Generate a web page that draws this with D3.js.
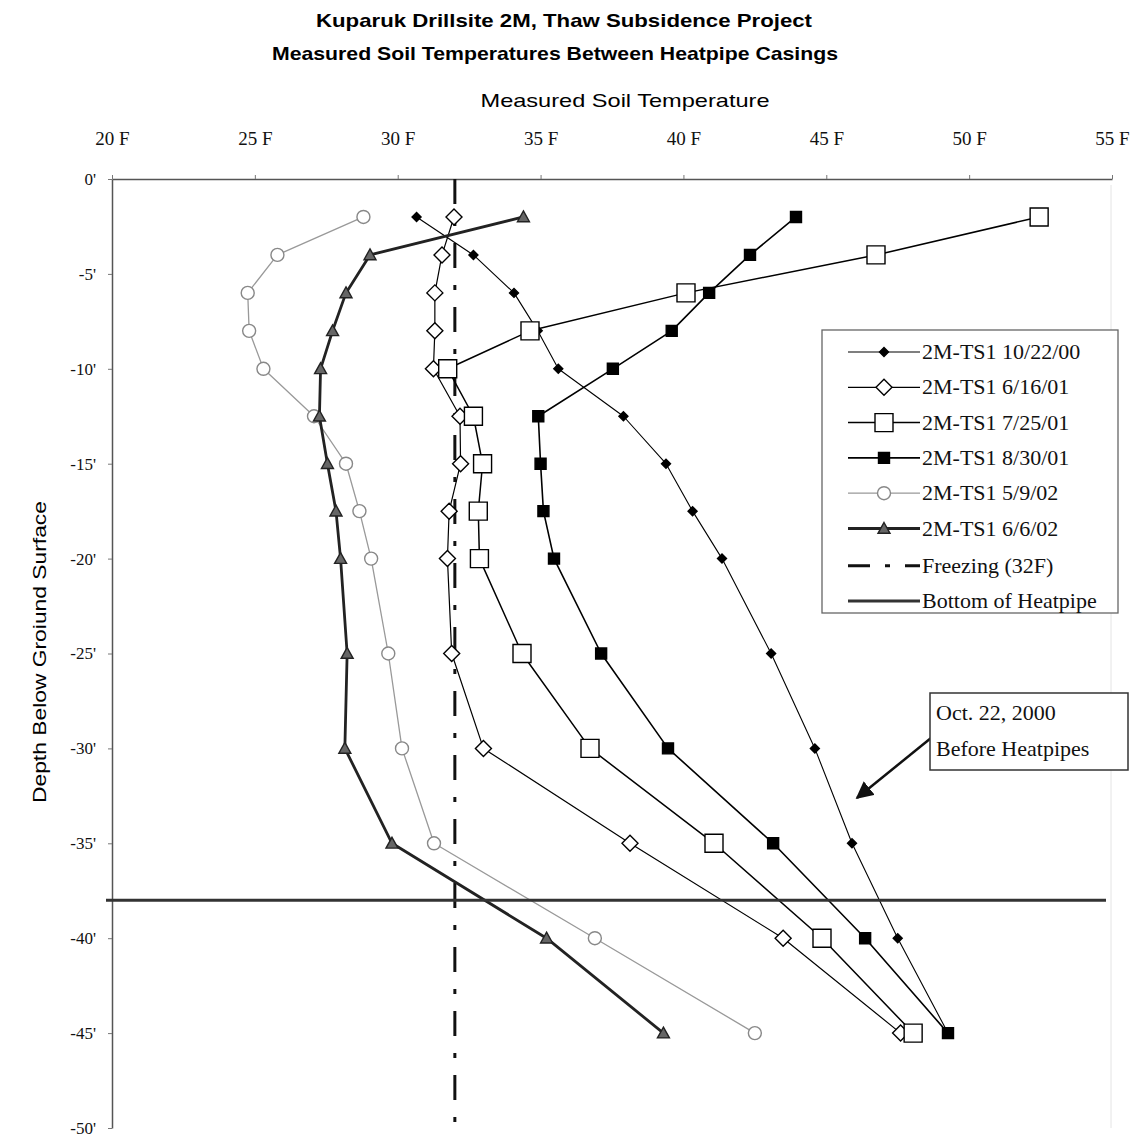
<!DOCTYPE html>
<html><head><meta charset="utf-8">
<script src="https://cdn.jsdelivr.net/npm/d3@7"></script>
<style>body{margin:0;background:#fff}svg{display:block}</style>
</head><body>
<script>
// ---- data ----
const depths = [-2,-4,-6,-8,-10,-12.5,-15,-17.5,-20,-25,-30,-35,-40,-45];
const t_102200 = [30.66,32.65,34.07,34.9,35.62,37.9,39.39,40.32,41.35,43.07,44.6,45.9,47.5,49.26];
const t_061601 = [31.97,31.55,31.3,31.3,31.25,32.18,32.2,31.8,31.74,31.89,33.0,38.13,43.49,47.6];
const t_072501 = [52.45,46.74,40.09,34.63,31.75,32.65,32.97,32.82,32.86,34.35,36.73,41.07,44.85,48.04];
const t_083001 = [43.94,42.33,40.9,39.59,37.53,34.92,35.0,35.1,35.47,37.12,39.46,43.14,46.36,49.26];
const t_050902 = [28.8,25.79,24.75,24.8,25.3,27.07,28.19,28.66,29.07,29.67,30.15,31.27,36.9,42.5];
const t_060602 = [34.4,29.03,28.19,27.72,27.3,27.26,27.54,27.84,28.0,28.23,28.15,29.8,35.21,39.3];
const seriesNames = ["2M-TS1 10/22/00","2M-TS1 6/16/01","2M-TS1 7/25/01","2M-TS1 8/30/01","2M-TS1 5/9/02","2M-TS1 6/6/02"];
const freezingTemp = 32;
const heatpipeDepth = -38;
const xTicks = [20,25,30,35,40,45,50,55];
const yTicks = [0,-5,-10,-15,-20,-25,-30,-35,-40,-45,-50];
const titleLines = ["Kuparuk Drillsite 2M, Thaw Subsidence Project","Measured Soil Temperatures Between Heatpipe Casings"];
const xTitle = "Measured Soil Temperature";
const yTitle = "Depth Below Groiund Surface";
const noteLines = ["Oct. 22, 2000","Before Heatpipes"];
const legendExtra = ["Freezing (32F)","Bottom of Heatpipe"];

// ---- styles ----
const styles = [
  {line:"#000", lw:1.1, shape:"diamond", size:9, fill:"#000", stroke:"#000"},
  {line:"#000", lw:1.2, shape:"diamond", size:16, fill:"#fff", stroke:"#000"},
  {line:"#000", lw:1.5, shape:"square", size:18, fill:"#fff", stroke:"#000"},
  {line:"#000", lw:1.6, shape:"square", size:11, fill:"#000", stroke:"#000"},
  {line:"#999", lw:1.3, shape:"circle", size:13, fill:"#fff", stroke:"#888"},
  {line:"#222", lw:2.8, shape:"triangle", size:12, fill:"#666", stroke:"#222"}
];
const allT = [t_102200,t_061601,t_072501,t_083001,t_050902,t_060602];

const W=1136,H=1141;
const svg = d3.select("body").append("svg").attr("width",W).attr("height",H);
const x = d3.scaleLinear().domain([20,55]).range([112,1112]);
const y = d3.scaleLinear().domain([0,-50]).range([179,1128]);

function circ(h){return `M${h},0A${h},${h} 0 1,1 ${-h},0A${h},${h} 0 1,1 ${h},0Z`;}
function mk(st){
  const h=st.size/2;
  if(st.shape==="diamond") return `M0,${-h}L${h},0L0,${h}L${-h},0Z`;
  if(st.shape==="square") return `M${-h},${-h}H${h}V${h}H${-h}Z`;
  if(st.shape==="triangle") return `M0,${-h}L${h},${h*0.8}L${-h},${h*0.8}Z`;
  return circ(h);
}

// titles
const serif = "'Liberation Serif','Times New Roman',serif";
const narrow = "'Liberation Sans Narrow','Arial Narrow','Liberation Sans',sans-serif";
svg.append("text").attr("x",564).attr("y",27).attr("text-anchor","middle")
  .attr("font-family",narrow).attr("font-weight","bold").attr("font-size",19)
  .attr("textLength",496).attr("lengthAdjust","spacingAndGlyphs").text(titleLines[0]);
svg.append("text").attr("x",555).attr("y",60).attr("text-anchor","middle")
  .attr("font-family",narrow).attr("font-weight","bold").attr("font-size",19)
  .attr("textLength",566).attr("lengthAdjust","spacingAndGlyphs").text(titleLines[1]);
svg.append("text").attr("x",625).attr("y",107).attr("text-anchor","middle")
  .attr("font-family",narrow).attr("font-size",19)
  .attr("textLength",289).attr("lengthAdjust","spacingAndGlyphs").text(xTitle);
svg.append("text").attr("transform","translate(46,652) rotate(-90)").attr("text-anchor","middle")
  .attr("font-family",narrow).attr("font-size",19)
  .attr("textLength",302).attr("lengthAdjust","spacingAndGlyphs").text(yTitle);

// axes
const gx = svg.append("g").attr("transform",`translate(0,${y(0)})`)
  .call(d3.axisTop(x).tickValues(xTicks).tickFormat(d=>d+" F").tickSizeInner(4).tickSizeOuter(0).tickPadding(30));
gx.select(".domain").attr("stroke","#555").attr("stroke-width",1.5);
gx.selectAll(".tick line").attr("stroke","#777");
gx.selectAll("text").attr("font-family",serif).attr("font-size",19).attr("fill","#111");
const gy = svg.append("g").attr("transform",`translate(${x(20)},0)`)
  .call(d3.axisLeft(y).tickValues(yTicks).tickFormat(d=>d+"'").tickSizeInner(4).tickSizeOuter(0).tickPadding(12));
gy.select(".domain").attr("stroke","#555").attr("stroke-width",1.5);
gy.selectAll(".tick line").attr("stroke","#777");
gy.selectAll("text").attr("font-family",serif).attr("font-size",17).attr("fill","#111");
svg.append("line").attr("x1",x(55)-1).attr("x2",x(55)-1).attr("y1",y(0)+6).attr("y2",y(-50))
  .attr("stroke","#e4e4e4").attr("stroke-width",1);

// freezing line
svg.append("line").attr("x1",x(freezingTemp)).attr("x2",x(freezingTemp)).attr("y1",y(0)).attr("y2",y(-50))
  .attr("stroke","#111").attr("stroke-width",3).attr("stroke-dasharray","25,17,5,17");

// series
const lineGen = d3.line().x(d=>x(d.t)).y(d=>y(d.d));
allT.forEach((arr,i)=>{
  const st = styles[i];
  const pts = depths.map((d,j)=>({d:d,t:arr[j]}));
  svg.append("path").datum(pts).attr("d",lineGen).attr("fill","none")
    .attr("stroke",st.line).attr("stroke-width",st.lw).attr("stroke-linejoin","round");
  svg.append("g").selectAll("path").data(pts).join("path")
    .attr("transform",d=>`translate(${x(d.t)},${y(d.d)})`)
    .attr("d",mk(st)).attr("fill",st.fill).attr("stroke",st.stroke).attr("stroke-width",1.4);
});

// heatpipe line
svg.append("line").attr("x1",x(20)-6).attr("x2",x(55)-6).attr("y1",y(heatpipeDepth)).attr("y2",y(heatpipeDepth))
  .attr("stroke","#333").attr("stroke-width",3);

// legend
const lg = svg.append("g");
lg.append("rect").attr("x",822).attr("y",330).attr("width",296).attr("height",283)
  .attr("fill","#fff").attr("stroke","#666").attr("stroke-width",1.3);
const ly0=352, lstep=35.3, lx1=848, lx2=920;
const lfs = 22;
allT.forEach((arr,i)=>{
  const st=styles[i], yy=ly0+i*lstep;
  lg.append("line").attr("x1",lx1).attr("x2",lx2).attr("y1",yy).attr("y2",yy).attr("stroke",st.line).attr("stroke-width",st.lw);
  lg.append("path").attr("transform",`translate(${(lx1+lx2)/2},${yy})`).attr("d",mk(st))
    .attr("fill",st.fill).attr("stroke",st.stroke).attr("stroke-width",1.4);
  lg.append("text").attr("x",922).attr("y",yy+7).attr("font-family",serif).attr("font-size",lfs).attr("fill","#111").text(seriesNames[i]);
});
{
  const yy=ly0+6*lstep+2;
  lg.append("line").attr("x1",lx1).attr("x2",lx2).attr("y1",yy).attr("y2",yy).attr("stroke","#111").attr("stroke-width",3).attr("stroke-dasharray","22,15,5,15");
  lg.append("text").attr("x",922).attr("y",yy+7).attr("font-family",serif).attr("font-size",lfs).attr("fill","#111").text(legendExtra[0]);
  const y2=ly0+7*lstep+2;
  lg.append("line").attr("x1",lx1).attr("x2",lx2).attr("y1",y2).attr("y2",y2).attr("stroke","#333").attr("stroke-width",3);
  lg.append("text").attr("x",922).attr("y",y2+7).attr("font-family",serif).attr("font-size",lfs).attr("fill","#111").text(legendExtra[1]);
}

// annotation
svg.append("defs").append("marker").attr("id","ah").attr("viewBox","0 0 10 10").attr("refX",9).attr("refY",5)
  .attr("markerWidth",7).attr("markerHeight",7).attr("markerUnits","strokeWidth").attr("orient","auto")
  .append("path").attr("d","M0,0L10,5L0,10Z").attr("fill","#111");
svg.append("line").attr("x1",931).attr("y1",738).attr("x2",857).attr("y2",798)
  .attr("stroke","#111").attr("stroke-width",2.5).attr("marker-end","url(#ah)");
svg.append("rect").attr("x",930).attr("y",693).attr("width",198).attr("height",77)
  .attr("fill","#fff").attr("stroke","#333").attr("stroke-width",1.5);
svg.append("text").attr("x",936).attr("y",720).attr("font-family",serif).attr("font-size",22).attr("fill","#111").text(noteLines[0]);
svg.append("text").attr("x",936).attr("y",756).attr("font-family",serif).attr("font-size",22).attr("fill","#111").text(noteLines[1]);
</script>
</body></html>
